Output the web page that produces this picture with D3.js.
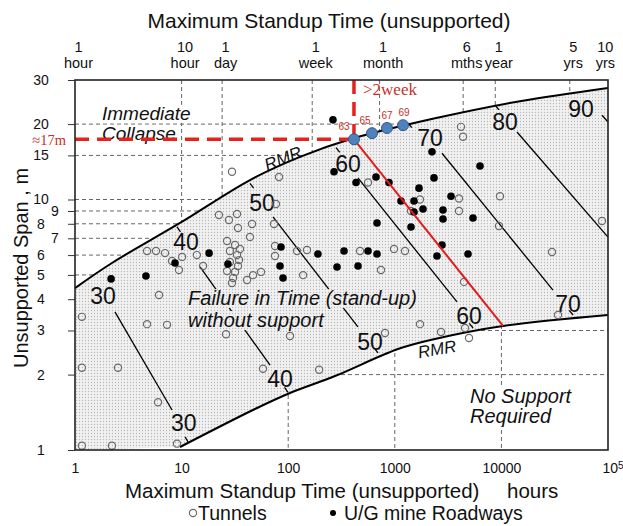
<!DOCTYPE html>
<html>
<head>
<meta charset="utf-8">
<script src="https://cdn.jsdelivr.net/npm/d3@7"></script>
<style>
  body { margin: 0; background: #fff; }
</style>
</head>
<body>
<svg id="chart" width="623" height="526"></svg>
<script>
// ---- data (hours, span in m) ----
var upperCurve = [[1,4.43],[2.22,5.58],[9.66,8.06],[43.8,11.96],[129,14.8],[380,17.4],[2383,21.1],[14900,24.7],[1e5,27.9]];
var lowerCurve = [[9.66,1.028],[48.8,1.458],[104,1.689],[275,1.974],[1072,2.53],[2383,2.775],[10350,3.126],[1e5,3.46]];

var rmrValues = [30, 40, 50, 60, 70, 80, 90];
var rmrStart = [[2.37,3.56],[14.9,5.38],[72,8.52],[451,12.2],[2773,15.3],[14000,18.6],[87900,21.7]];
var rmrEnd = [[8.13,1.445],[67.5,2.18],[451,3.10],[3833,3.90],[30470,4.35],[1e5,7.08],[1e5,20.4]];
var rmrTopLabel = [[1.83,4.12],[11.0,6.77],[56.8,9.68],[364,13.9],[2138,17.6],[10800,20.4],[55800,23.0]];
var rmrBottomLabel = [[10.5,1.28],[83.8,1.92],[585,2.70],[4966,3.43],[42150,3.83],null,null];
var rmrTopTick = [null,[9.05,7.77],[43.8,11.6],[281,16.1],[1330,20.2],[8710,23.8],null];
var rmrBottomTick = [[11.5,1.076],[99.6,1.70],[695,2.44],[5420,3.07],[46950,3.46],null,null];

var tunnels = [[29.7,12.9],[82.0,12.3],[76.8,9.60],[22.4,8.67],[27.8,8.28],[33.1,8.75],[45.8,7.98],[33.8,7.70],
  [73.6,7.98],[43.8,7.09],[26.7,6.83],[31.7,6.58],[35.3,6.35],[28.4,6.23],[33.1,6.00],[34.6,5.73],[28.4,5.63],
  [26.7,5.18],[31.7,5.14],[33.8,5.43],[30.4,4.86],[29.7,4.64],[41.1,4.77],[46.8,4.99],[55.6,5.14],[4.74,6.23],
  [5.75,6.23],[6.99,6.11],[8.13,5.68],[9.45,5.23],[10.1,5.90],[13.9,6.00],[15.9,5.43],[75.2,6.52],[75.2,5.95],
  [121,6.23],[150,6.29],[138,4.99],[6.14,4.16],[4.74,3.18],[7.30,3.16],[26.1,2.90],[104,2.85],[1.16,3.40],
  [1.16,2.13],[2.53,2.13],[6.01,1.55],[1.16,1.04],[2.22,1.04],[9.05,1.06],[58.0,2.11],[195,2.09],[809,2.93],
  [1722,3.18],[561,11.7],[1722,10.0],[1419,9.00],[4000,10.1],[4000,9.00],[9700,10.3],[9495,7.84],[4178,19.5],
  [4363,17.8],[87850,8.21],[29830,6.17],[983,6.35],[1246,6.23],[472,6.23],[742,5.23],[4457,4.69],[2713,2.96],
  [4555,3.07],[4966,2.80],[33960,3.46]];

var mines = [[2.18,4.82],[4.63,4.95],[8.67,5.58],[18.1,6.11],[27.2,5.53],[85.6,6.46],[83.8,5.43],[89.4,4.86],
  [190,6.06],[263,20.8],[269,12.9],[433,11.7],[666,12.3],[882,11.7],[2332,12.2],[6300,13.6],[2233,15.5],
  [1143,9.86],[1514,9.86],[1687,11.1],[1839,9.17],[1514,8.92],[3367,10.3],[2833,9.08],[2833,8.36],[5415,8.44],
  [681,8.06],[1419,7.77],[334,6.23],[561,6.23],[681,6.06],[287,5.38],[452,5.43],[2773,6.58],[2488,5.95],[4862,6.06]];

// RMR 63..69 points on the upper boundary
var markerRmr = [63, 65, 67, 69];
var markerHours = [414, 611, 845, 1194];
var markerSpans = [17.4, 18.4, 19.3, 19.8];
var redLineEnd = [10350, 3.13];

var yTicks = [1,2,3,4,5,6,7,8,9,10,15,20,30];
var yTicksInner = [7, 9];
var xTicks = [1,10,100,1000,10000,1e5];
var topHours = [1,10,24,168,720,4380,8760,43800,87600];
var topNum = ["1","10","1","1","1","6","1","5","10"];
var topUnit = ["hour","hour","day","week","month","mths","year","yrs","yrs"];

var gridTopHours = [10,24,168,720,4380,8760,43800];
var gridTopSpans = [5,6,7,8,9,10,15,20];
var gridBottomHours = [100,1000,10000];
var gridBottomSpans = [2,3];

// ---- setup ----
var font = "'Liberation Sans', Arial, sans-serif";
var serif = "'Liberation Serif', 'Times New Roman', serif";
var svg = d3.select("#chart");
var x = d3.scaleLog().domain([1, 1e5]).range([75, 608]);
var y = d3.scaleLog().domain([1, 30]).range([450, 80]);
var line = d3.line().x(function(d){return x(d[0]);}).y(function(d){return y(d[1]);})
    .curve(d3.curveCatmullRom.alpha(0.5));

var defs = svg.append("defs");
var pat = defs.append("pattern").attr("id","stip").attr("patternUnits","userSpaceOnUse")
    .attr("width",3).attr("height",3);
pat.append("rect").attr("width",3).attr("height",3).attr("fill","#f1f1f1");
pat.append("circle").attr("cx",1.5).attr("cy",1.5).attr("r",0.65).attr("fill","#b8b8b8");

defs.append("clipPath").attr("id","above").append("path")
    .attr("d", line(upperCurve) + "L" + x(1e5) + "," + y(30) + "L" + x(1) + "," + y(30) + "Z");
defs.append("clipPath").attr("id","below").append("path")
    .attr("d", line(lowerCurve) + "L" + x(1e5) + "," + y(1) + "Z");

// ---- grid ----
function grid(hours, spans, clip) {
    var g = svg.append("g").attr("clip-path","url(#" + clip + ")")
        .attr("stroke","#666").attr("stroke-width",1).attr("stroke-dasharray","4,3");
    g.selectAll(".v").data(hours).enter().append("line")
        .attr("x1", function(d){return x(d);}).attr("x2", function(d){return x(d);})
        .attr("y1", y(30)).attr("y2", y(1));
    g.selectAll(".h").data(spans).enter().append("line")
        .attr("x1", x(1)).attr("x2", x(1e5))
        .attr("y1", function(d){return y(d);}).attr("y2", function(d){return y(d);});
}
grid(gridTopHours, gridTopSpans, "above");
grid(gridBottomHours, gridBottomSpans, "below");

// ---- stand-up band ----
var lowRev = lowerCurve.slice().reverse();
svg.append("path")
    .attr("d", line(upperCurve) + "L" + line(lowRev).slice(1) + "L" + x(1) + "," + y(1) + "Z")
    .attr("fill","url(#stip)");

svg.append("path").attr("d", line(upperCurve)).attr("fill","none").attr("stroke","#000").attr("stroke-width",2);
svg.append("path").attr("d", line(lowerCurve)).attr("fill","none").attr("stroke","#000").attr("stroke-width",2);

// ---- RMR lines ----
var rg = svg.append("g").attr("stroke","#000").attr("stroke-width",1.3);
rmrValues.forEach(function(v, i) {
    var x1 = x(rmrStart[i][0]), y1 = y(rmrStart[i][1]), x2 = x(rmrEnd[i][0]), y2 = y(rmrEnd[i][1]);
    rg.append("line").attr("x1",x1).attr("y1",y1).attr("x2",x2).attr("y2",y2);
    var len = Math.hypot(x2 - x1, y2 - y1), ux = (x2 - x1) / len, uy = (y2 - y1) / len;
    if (rmrTopTick[i]) {
        var tx = x(rmrTopTick[i][0]), ty = y(rmrTopTick[i][1]);
        rg.append("line").attr("x1",tx).attr("y1",ty).attr("x2",tx + 6*ux).attr("y2",ty + 6*uy);
    }
    if (rmrBottomTick[i]) {
        var bx = x(rmrBottomTick[i][0]), by = y(rmrBottomTick[i][1]);
        rg.append("line").attr("x1",bx).attr("y1",by).attr("x2",bx - 6*ux).attr("y2",by - 6*uy);
    }
});

// ---- boxed notes ----
function note(lines, at, dy, size, bg) {
    var g = svg.append("g");
    lines.forEach(function(t, i) {
        g.append("text").attr("x", x(at[0])).attr("y", y(at[1]) + i*dy)
            .attr("font-family", font).attr("font-style","italic").attr("font-size", size)
            .attr("fill","#111").text(t);
    });
    g.selectAll("text").each(function() {
        var b = this.getBBox();
        g.insert("rect","text").attr("x", b.x - 2).attr("y", b.y + 2)
            .attr("width", b.width + 4).attr("height", b.height - 3).attr("fill", bg);
    });
}
note(["Immediate","Collapse"], [1.79, 20.8], 20, 19, "#fff");
note(["Failure in Time (stand-up)","without support"], [11.5, 3.79], 22, 20, "url(#stip)");
note(["No Support","Required"], [5075, 1.54], 20, 20, "#fff");

var rmrLabelPos = [[89.4,14.6],[2488,2.53]], rmrLabelAngle = [-22, -10];
rmrLabelPos.forEach(function(p, i) {
    svg.append("text").attr("transform","translate(" + x(p[0]) + "," + y(p[1]) + ") rotate(" + rmrLabelAngle[i] + ")")
        .attr("text-anchor","middle").attr("dy","0.35em")
        .attr("font-family", font).attr("font-style","italic").attr("font-size",17).attr("fill","#111")
        .text("RMR");
});

// RMR numbers
var ng = svg.append("g").attr("font-family", font).attr("font-size",23).attr("fill","#111")
    .attr("text-anchor","middle");
rmrValues.forEach(function(v, i) {
    [rmrTopLabel[i], rmrBottomLabel[i]].forEach(function(p) {
        if (!p) return;
        ng.append("text").attr("x", x(p[0])).attr("y", y(p[1])).attr("dy","0.36em").text(v);
    });
});

// ---- data points ----
svg.append("g").selectAll("circle").data(tunnels).enter().append("circle")
    .attr("cx", function(d){return x(d[0]);}).attr("cy", function(d){return y(d[1]);})
    .attr("r",3.6).attr("fill","none").attr("stroke","#6a6a6a").attr("stroke-width",1.2);
svg.append("g").selectAll("circle").data(mines).enter().append("circle")
    .attr("cx", function(d){return x(d[0]);}).attr("cy", function(d){return y(d[1]);})
    .attr("r",3.8).attr("fill","#000");

// ---- red annotations ----
var px = x(markerHours[0]), py = y(markerSpans[0]);
svg.append("line").attr("x1", x(1)).attr("x2", px).attr("y1", py).attr("y2", py)
    .attr("stroke","#e8211c").attr("stroke-width",3.5).attr("stroke-dasharray","14,8");
svg.append("line").attr("x1", px).attr("x2", px).attr("y1", y(30)).attr("y2", py)
    .attr("stroke","#e8211c").attr("stroke-width",3.5).attr("stroke-dasharray","14,8");
svg.append("line").attr("x1", px).attr("y1", py).attr("x2", x(redLineEnd[0])).attr("y2", y(redLineEnd[1]))
    .attr("stroke","#e31b1b").attr("stroke-width",2);

svg.append("text").attr("x", x(1) - 9).attr("y", py + 6).attr("text-anchor","end")
    .attr("font-family", serif).attr("font-size",14.5).attr("fill","#c8302a").text("≈17m");
svg.append("text").attr("x", px + 9).attr("y", y(30) + 15)
    .attr("font-family", serif).attr("font-size",17).attr("fill","#c8302a").text(">2week");

var markerLabelDx = [-10, -7, 0, 1];
markerRmr.forEach(function(v, i) {
    var cx = x(markerHours[i]), cy = y(markerSpans[i]);
    svg.append("circle").attr("cx",cx).attr("cy",cy).attr("r",5.5)
        .attr("fill","#4f81bd").attr("stroke","#34598a").attr("stroke-width",1);
    svg.append("text").attr("x", cx + markerLabelDx[i]).attr("y", cy - 9).attr("text-anchor","middle")
        .attr("font-family", font).attr("font-size",10).attr("fill","#c8302a").text(v);
});

// ---- axes & frame ----
svg.append("rect").attr("x", x(1)).attr("y", y(30)).attr("width", x(1e5) - x(1)).attr("height", y(1) - y(30))
    .attr("fill","none").attr("stroke","#222").attr("stroke-width",1.6);

var yAxis = svg.append("g").attr("transform","translate(" + x(1) + ",0)")
    .call(d3.axisLeft(y).tickValues(yTicks).tickSize(7).tickFormat(d3.format("d")));
yAxis.select(".domain").remove();
yAxis.selectAll("line").attr("stroke","#333");
yAxis.selectAll("text").attr("text-anchor","middle")
    .attr("x", function(d){return yTicksInner.indexOf(d) >= 0 ? -20 : -34;})
    .attr("font-size",14).attr("font-family",font).attr("fill","#111");

var xAxis = svg.append("g").attr("transform","translate(0," + y(1) + ")")
    .call(d3.axisBottom(x).tickValues(xTicks).tickSize(0).tickPadding(13)
        .tickFormat(function(d){return d === 1e5 ? "10" : d3.format("d")(d);}));
xAxis.select(".domain").remove();
xAxis.selectAll("text").attr("font-size",14).attr("font-family",font).attr("fill","#111");
xAxis.selectAll("text").filter(function(d){return d === 1e5;})
    .attr("text-anchor","start").attr("dx",-6)
    .append("tspan").attr("dy","-0.4em").attr("font-size",10).text("5");

var tAxis = svg.append("g").attr("transform","translate(0," + y(30) + ")")
    .call(d3.axisTop(x).tickValues(topHours).tickSize(0).tickFormat(""));
tAxis.select(".domain").remove();
tAxis.selectAll(".tick text").remove();
tAxis.selectAll(".tick").each(function(d, i) {
    var g = d3.select(this);
    g.append("text").attr("x",3).attr("y",-28).attr("text-anchor","middle")
        .attr("font-size",14.5).attr("font-family",font).attr("fill","#111").text(topNum[i]);
    g.append("text").attr("x",3).attr("y",-12).attr("text-anchor","middle")
        .attr("font-size",14.5).attr("font-family",font).attr("fill","#111").text(topUnit[i]);
});

// titles
svg.append("text").attr("x", 329).attr("y", 28).attr("text-anchor","middle")
    .attr("font-family",font).attr("font-size",21).attr("fill","#111")
    .text("Maximum Standup Time (unsupported)");
svg.append("text").attr("x", 125).attr("y", 498)
    .attr("font-family",font).attr("font-size",20.5).attr("fill","#111")
    .text("Maximum Standup Time (unsupported)");
svg.append("text").attr("x", 507).attr("y", 498)
    .attr("font-family",font).attr("font-size",20.5).attr("fill","#111").text("hours");
svg.append("text").attr("transform","translate(28,268) rotate(-90)").attr("text-anchor","middle")
    .attr("font-family",font).attr("font-size",20).attr("fill","#111")
    .text("Unsupported Span , m");

// legend
svg.append("circle").attr("cx",193).attr("cy",513).attr("r",3.6)
    .attr("fill","none").attr("stroke","#6a6a6a").attr("stroke-width",1.2);
svg.append("text").attr("x",198).attr("y",520).attr("font-family",font).attr("font-size",19.5)
    .attr("fill","#111").text("Tunnels");
svg.append("circle").attr("cx",333).attr("cy",513).attr("r",3).attr("fill","#000");
svg.append("text").attr("x",344).attr("y",520).attr("font-family",font).attr("font-size",19.5)
    .attr("fill","#111").text("U/G mine Roadways");
</script>
</body>
</html>
